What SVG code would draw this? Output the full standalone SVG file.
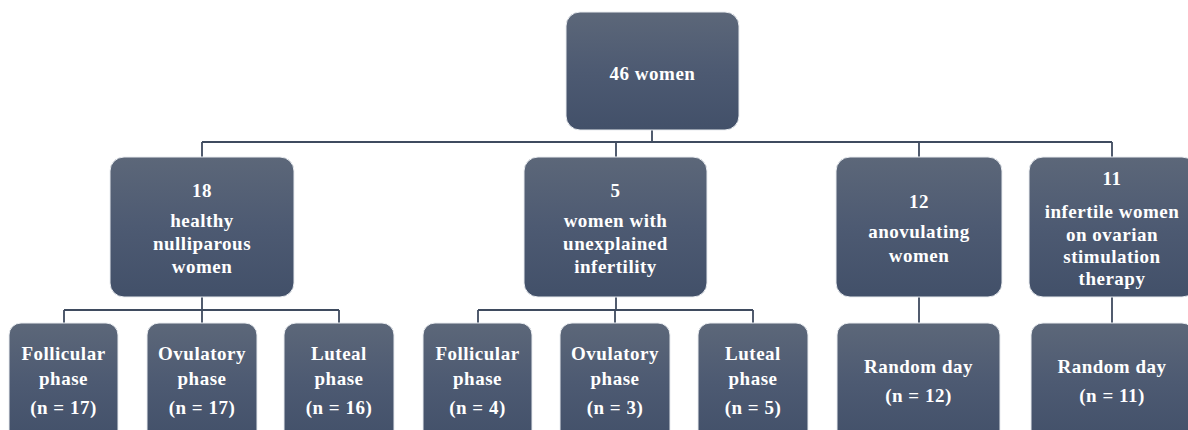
<svg xmlns="http://www.w3.org/2000/svg" width="1188" height="430" viewBox="0 0 1188 430">
<style>
.box{fill:url(#g);stroke:#e9ecf0;stroke-width:1}
.t{font-family:"Liberation Serif","Times New Roman",serif;font-weight:bold;font-size:19px;fill:#ffffff;text-anchor:middle;letter-spacing:0.5px}
.c{fill:none;stroke:#3f4b5f;stroke-width:1.8}
</style>
<defs>
<linearGradient id="g" x1="0" y1="0" x2="0" y2="1">
<stop offset="0" stop-color="#5c6779"/>
<stop offset="0.5" stop-color="#4d5a72"/>
<stop offset="1" stop-color="#425069"/>
</linearGradient>
</defs>
<rect width="1188" height="430" fill="#ffffff"/>
<g id="connectors">
<path class="c" d="M652 130V142M202 142H1112M202 142V157M616 142V157M919 142V157M1112 142V157"/>
<path class="c" d="M202 297V310M64 310H339M64 310V323M202 310V323M339 310V323"/>
<path class="c" d="M616 297V310M478 310H753M478 310V323M615 310V323M753 310V323"/>
<path class="c" d="M919 297V323M1112 297V323"/>
</g>
<g id="n46">
<rect class="box" x="566" y="12" width="173" height="118" rx="14"/>
<text class="t" x="652.5" y="80">46 women</text>
</g>
<g id="n18">
<rect class="box" x="110" y="157" width="184" height="140" rx="14"/>
<text class="t" x="202" y="197">18</text>
<text class="t" x="202" y="227">healthy</text>
<text class="t" x="202" y="250">nulliparous</text>
<text class="t" x="202" y="273">women</text>
</g>
<g id="n5">
<rect class="box" x="524" y="157" width="183" height="140" rx="14"/>
<text class="t" x="615.5" y="197">5</text>
<text class="t" x="615.5" y="227">women with</text>
<text class="t" x="615.5" y="250">unexplained</text>
<text class="t" x="615.5" y="273">infertility</text>
</g>
<g id="n12">
<rect class="box" x="836" y="157" width="166" height="140" rx="14"/>
<text class="t" x="919" y="208">12</text>
<text class="t" x="919" y="238">anovulating</text>
<text class="t" x="919" y="262">women</text>
</g>
<g id="n11">
<rect class="box" x="1029" y="157" width="167" height="140" rx="14"/>
<text class="t" x="1112" y="185">11</text>
<text class="t" x="1112" y="218">infertile women</text>
<text class="t" x="1112" y="241">on ovarian</text>
<text class="t" x="1112" y="263">stimulation</text>
<text class="t" x="1112" y="285">therapy</text>
</g>
<g id="a1">
<rect class="box" x="9" y="323" width="109" height="120" rx="12"/>
<text class="t" x="63.5" y="360">Follicular</text>
<text class="t" x="63.5" y="385">phase</text>
<text class="t" x="63.5" y="414">(n = 17)</text>
</g>
<g id="a2">
<rect class="box" x="147" y="323" width="110" height="120" rx="12"/>
<text class="t" x="202" y="360">Ovulatory</text>
<text class="t" x="202" y="385">phase</text>
<text class="t" x="202" y="414">(n = 17)</text>
</g>
<g id="a3">
<rect class="box" x="284" y="323" width="110" height="120" rx="12"/>
<text class="t" x="339" y="360">Luteal</text>
<text class="t" x="339" y="385">phase</text>
<text class="t" x="339" y="414">(n = 16)</text>
</g>
<g id="b1">
<rect class="box" x="423" y="323" width="109" height="120" rx="12"/>
<text class="t" x="477.5" y="360">Follicular</text>
<text class="t" x="477.5" y="385">phase</text>
<text class="t" x="477.5" y="414">(n = 4)</text>
</g>
<g id="b2">
<rect class="box" x="560" y="323" width="110" height="120" rx="12"/>
<text class="t" x="615" y="360">Ovulatory</text>
<text class="t" x="615" y="385">phase</text>
<text class="t" x="615" y="414">(n = 3)</text>
</g>
<g id="b3">
<rect class="box" x="698" y="323" width="110" height="120" rx="12"/>
<text class="t" x="753" y="360">Luteal</text>
<text class="t" x="753" y="385">phase</text>
<text class="t" x="753" y="414">(n = 5)</text>
</g>
<g id="c1">
<rect class="box" x="837" y="323" width="163" height="120" rx="12"/>
<text class="t" x="918.5" y="373">Random day</text>
<text class="t" x="918.5" y="402">(n = 12)</text>
</g>
<g id="d1">
<rect class="box" x="1031" y="323" width="163" height="120" rx="12"/>
<text class="t" x="1112" y="373">Random day</text>
<text class="t" x="1112" y="402">(n = 11)</text>
</g>
</svg>
